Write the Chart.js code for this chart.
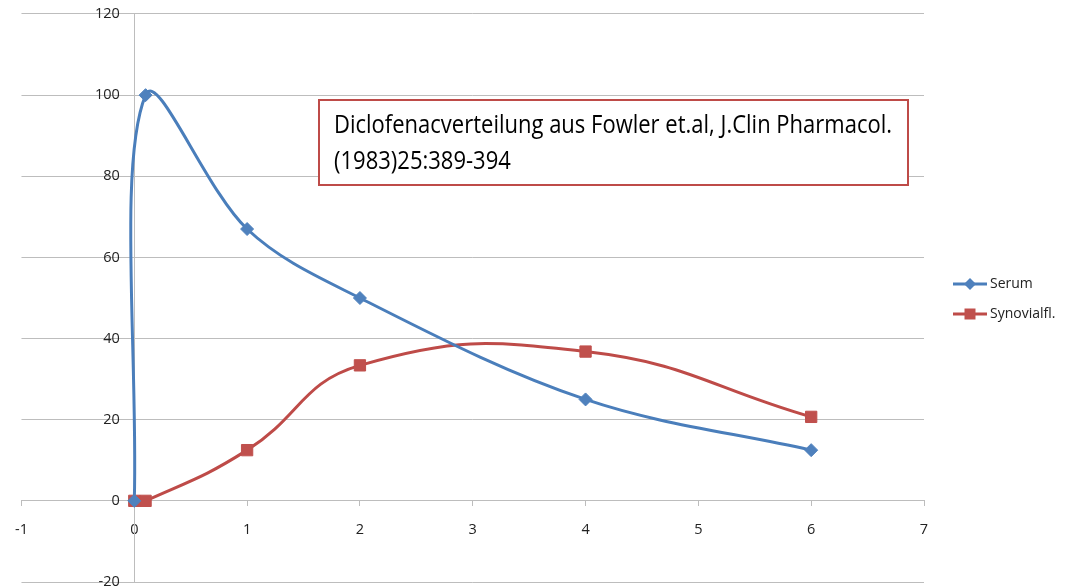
<!DOCTYPE html>
<html>
<head>
<meta charset="utf-8">
<script src="https://cdn.jsdelivr.net/npm/chart.js@4"></script>
<style>
html, body { margin: 0; padding: 0; background: #fff; overflow: hidden; }
#wrap { width: 1065px; height: 588px; overflow: hidden; }
</style>
</head>
<body>
<div id="wrap"><canvas id="chart" width="1065" height="600"></canvas></div>
<script>
// values
var hours = [0, 0.1, 1, 2, 4, 6]
var serum = [0, 100, 67, 50, 25, 12.5]
var synovial = [0, 0, 12.5, 33.4, 36.8, 20.7]
var seriesNames = ['Serum', 'Synovialfl.']
var titleLines = ['Diclofenacverteilung aus Fowler et.al, J.Clin Pharmacol.', '(1983)25:389-394']

var blue = '#4a7ebb'
var red = '#be4b48'
var grid = '#bdbdbd'
var fontFamily = "'Open Sans', 'Noto Sans', sans-serif"

function toPoints(xs, ys) {
    var pts = []
    for (var i = 0; i < xs.length; i++) {
        pts.push({x: xs[i], y: ys[i]})
    }
    return pts
}

// legend + text box, drawn over the plot like the excel shapes
var extras = {
    id: 'extras',
    afterDraw: function(chart) {
        var ctx = chart.ctx
        ctx.save()

        // text box
        var bx = 319, by = 100, bw = 589, bh = 85
        ctx.fillStyle = '#fff'
        ctx.fillRect(bx, by, bw, bh)
        ctx.strokeStyle = red
        ctx.lineWidth = 2
        ctx.strokeRect(bx, by, bw, bh)

        // calibri-ish: tall letters squeezed sideways
        ctx.font = '25px ' + fontFamily
        var w = ctx.measureText(titleLines[0]).width
        var sx = 558 / w
        ctx.fillStyle = '#000'
        ctx.textBaseline = 'alphabetic'
        ctx.textAlign = 'left'
        ctx.save()
        ctx.translate(334, 0)
        ctx.scale(sx, 1)
        ctx.fillText(titleLines[0], 0, 133)
        ctx.fillText(titleLines[1], 0, 169)
        ctx.restore()

        // legend
        var ds = chart.data.datasets
        var ly = [284, 314]
        ctx.font = '14px ' + fontFamily
        ctx.textBaseline = 'middle'
        for (var i = 0; i < ds.length; i++) {
            ctx.strokeStyle = ds[i].borderColor
            ctx.lineWidth = 3
            ctx.beginPath()
            ctx.moveTo(953, ly[i])
            ctx.lineTo(987, ly[i])
            ctx.stroke()
            ctx.fillStyle = ds[i].pointBackgroundColor
            ctx.beginPath()
            if (ds[i].pointStyle == 'rectRot') {
                ctx.moveTo(970 - 6, ly[i])
                ctx.lineTo(970, ly[i] - 6)
                ctx.lineTo(970 + 6, ly[i])
                ctx.lineTo(970, ly[i] + 6)
                ctx.closePath()
            } else {
                ctx.rect(970 - 5.5, ly[i] - 5.5, 11, 11)
            }
            ctx.fill()
            ctx.fillStyle = '#222'
            ctx.fillText(ds[i].label, 990, ly[i])
        }
        ctx.restore()
    }
}

var ctx = document.getElementById('chart').getContext('2d')
var myChart = new Chart(ctx, {
    type: 'scatter',
    data: {
        datasets: [{
            label: seriesNames[0],
            data: toPoints(hours, serum),
            showLine: true,
            tension: 0.35,
            borderColor: blue,
            borderWidth: 3,
            pointStyle: 'rectRot',
            pointRadius: 6.5,
            pointBackgroundColor: '#4f81bd',
            pointBorderColor: '#4f81bd',
            pointBorderWidth: 1
        }, {
            label: seriesNames[1],
            data: toPoints(hours, synovial),
            showLine: true,
            tension: 0.45,
            borderColor: red,
            borderWidth: 3,
            pointStyle: 'rect',
            pointRadius: 8,
            pointBackgroundColor: '#c0504d',
            pointBorderColor: '#c0504d',
            pointBorderWidth: 1
        }]
    },
    options: {
        responsive: false,
        animation: false,
        layout: {
            padding: {left: 15, right: 141, top: 12, bottom: 15}
        },
        plugins: {
            legend: {display: false},
            tooltip: {enabled: false}
        },
        scales: {
            x: {
                type: 'linear',
                position: {y: 0},
                min: -1,
                max: 7,
                ticks: {stepSize: 1, padding: 15, color: '#222', font: {family: fontFamily, size: 14.5}},
                grid: {drawOnChartArea: false, drawTicks: true, tickLength: 5, color: grid},
                border: {display: true, color: grid, width: 1}
            },
            y: {
                type: 'linear',
                position: {x: 0},
                min: -20,
                max: 120,
                ticks: {
                    stepSize: 20,
                    color: '#222',
                    font: {family: fontFamily, size: 14.5},
                    // labels sit left of the axis with a gap
                    callback: function(v) { return v + '\u2003' }
                },
                grid: {drawTicks: false, color: grid, lineWidth: 1},
                border: {display: true, color: grid, width: 1}
            }
        }
    },
    plugins: [extras]
})

// axes sit at the crossing point, so nudge the padding until the plot
// box lands where excel put it (-1..7 over 18..924, 120..-20 over 14..582)
var want = {left: 18, right: 924, top: 14, bottom: 582}
for (var k = 0; k < 14; k++) {
    var sx = myChart.scales.x, sy = myChart.scales.y
    var pad = myChart.options.layout.padding
    var dl = want.left - sx.getPixelForValue(-1)
    var dr = want.right - sx.getPixelForValue(7)
    var dt = want.top - sy.getPixelForValue(120)
    var db = want.bottom - sy.getPixelForValue(-20)
    if (Math.abs(dl) < 0.3 && Math.abs(dr) < 0.3 && Math.abs(dt) < 0.3 && Math.abs(db) < 0.3) break
    pad.left = Math.max(0, pad.left + 0.6 * dl)
    pad.right = Math.max(0, pad.right - 0.6 * dr)
    pad.top = Math.max(0, pad.top + 0.6 * dt)
    pad.bottom = Math.max(0, pad.bottom - 0.6 * db)
    myChart.update()
}
</script>
</body>
</html>
